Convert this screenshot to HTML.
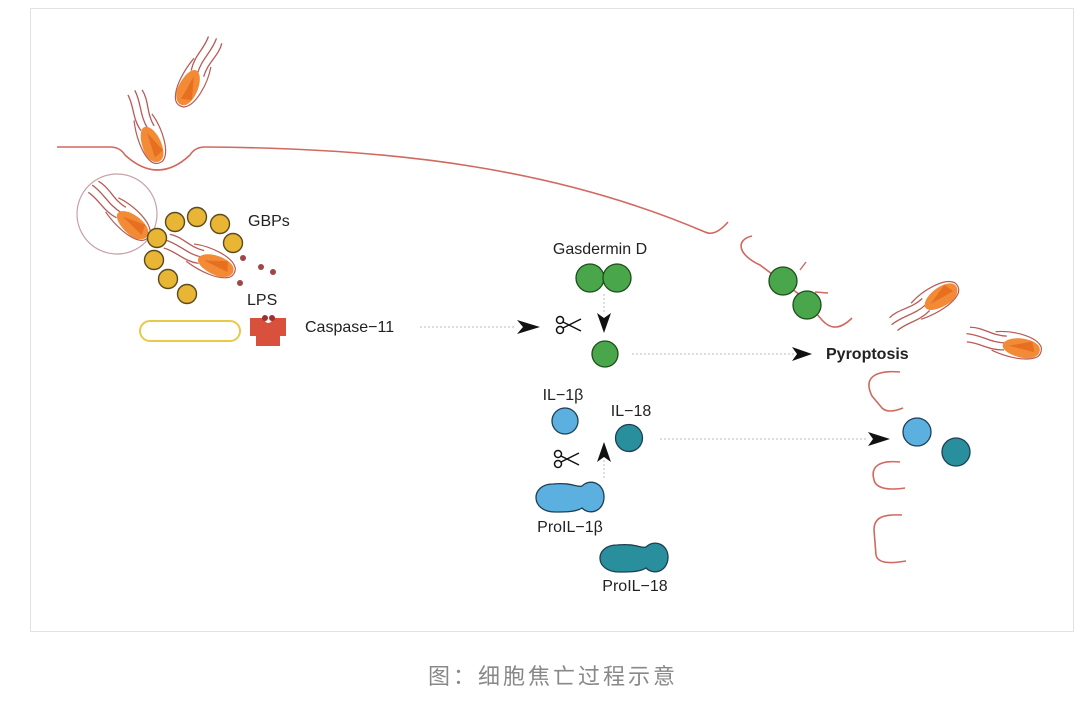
<!DOCTYPE html>
<html><head><meta charset="utf-8"><style>
html,body{margin:0;padding:0;background:#fff;width:1080px;height:714px;overflow:hidden}
svg{display:block}
text{font-family:"Liberation Sans",Arial,sans-serif;fill:#222}
</style></head><body>
<svg width="1080" height="714" viewBox="0 0 1080 714" xmlns="http://www.w3.org/2000/svg">
<defs>
<g id="bac">
  <path d="M-48,-9 C-35,-12 -25,-5 -10,-8 M-50,-2 C-36,-4 -25,2 -10,-1 M-48,6 C-35,4 -25,10 -10,6" stroke="#b85a55" stroke-width="1.3" fill="none"/>
  <path d="M-22,-10 C-5,-15 20,-14 26,-4 Q28,2 24,6 C15,13 -5,13 -22,9" stroke="#b85a55" stroke-width="1.2" fill="none"/>
  <path d="M-12,0 C-8,-10 18,-12 24,-4 C28,2 22,9 12,10 C0,11 -14,7 -12,0 Z" fill="#f28a36"/>
  <path d="M-6,1 L16,-8 L20,2 Z" fill="#e4681a" opacity="0.8"/>
</g>
<g id="sc" fill="none" stroke="#111" stroke-width="1.5">
  <circle cx="-9" cy="-5" r="3.5"/><circle cx="-9" cy="5" r="3.5"/>
  <path d="M-6,-3 L12,6 M-6,3 L12,-6"/>
</g>
</defs>
<rect x="30.5" y="8.5" width="1043" height="623" fill="#fff" stroke="#e2e2e2"/>

<!-- membrane -->
<path d="M57,147 L110,147 Q120,147 125,155 Q158,185 190,155 Q195,147 205,147 C400,148 560,170 705,232 Q715,237 728,222" fill="none" stroke="#d0695f" stroke-width="1.6"/>
<path d="M752,236 C735,240 738,255 760,265 L800,295 L822,320 Q835,335 852,318" fill="none" stroke="#d0695f" stroke-width="1.6"/>
<path d="M800,270 L806,262 M815,292 L828,293" stroke="#d0695f" stroke-width="1.4"/>
<path d="M900,372 C878,370 862,376 872,396 L882,408 Q888,414 903,408" fill="none" stroke="#d0695f" stroke-width="1.6"/>
<path d="M900,462 C880,460 870,466 874,480 Q877,492 905,488" fill="none" stroke="#d0695f" stroke-width="1.6"/>
<path d="M902,515 C882,514 874,518 874,530 L876,555 Q878,566 906,561" fill="none" stroke="#d0695f" stroke-width="1.6"/>

<!-- bacteria -->
<use href="#bac" transform="translate(192,82) rotate(117)"/>
<use href="#bac" transform="translate(150,138) rotate(70)"/>
<circle cx="117" cy="214" r="40" fill="none" stroke="#c9a0a8" stroke-width="1.2"/>
<use href="#bac" transform="translate(128,220) rotate(42)"/>
<use href="#bac" transform="translate(210,262) rotate(24)"/>
<use href="#bac" transform="translate(935,300) rotate(-32)"/>
<use href="#bac" transform="translate(1015,346) rotate(12)"/>

<!-- GBPs -->
<g fill="#e8b534" stroke="#5a4a20" stroke-width="1.4">
<circle cx="175" cy="222" r="9.5"/><circle cx="197" cy="217" r="9.5"/><circle cx="220" cy="224" r="9.5"/><circle cx="233" cy="243" r="9.5"/>
<circle cx="157" cy="238" r="9.5"/><circle cx="154" cy="260" r="9.5"/><circle cx="168" cy="279" r="9.5"/><circle cx="187" cy="294" r="9.5"/>
</g>
<g fill="#a04545"><circle cx="243" cy="258" r="3"/><circle cx="261" cy="267" r="3"/><circle cx="273" cy="272" r="3"/><circle cx="240" cy="283" r="3"/></g>
<text x="248" y="226" font-size="16">GBPs</text>
<text x="247" y="305" font-size="16">LPS</text>
<rect x="140" y="321" width="100" height="20" rx="10" fill="#fff" stroke="#e8c94a" stroke-width="2"/>
<path d="M250,318 L263,318 Q268,328 274,318 L286,318 L286,336 L280,336 L280,346 L256,346 L256,336 L250,336 Z" fill="#d9503c"/>
<circle cx="265" cy="318" r="3" fill="#a03030"/><circle cx="272" cy="318" r="3" fill="#a03030"/>
<text x="305" y="332" font-size="16">Caspase−11</text>

<!-- dotted connectors -->
<g stroke="#bbb" stroke-width="1" stroke-dasharray="2,2">
<line x1="420" y1="327" x2="515" y2="327"/>
<line x1="632" y1="354" x2="795" y2="354"/>
<line x1="660" y1="439" x2="868" y2="439"/>
<line x1="604" y1="294" x2="604" y2="312"/>
<line x1="604" y1="460" x2="604" y2="478"/>
</g>
<g fill="#111">
<path d="M517,320 L540,327 L517,334 L523,327 Z"/>
<path d="M792,347 L812,354 L792,361 L797,354 Z"/>
<path d="M868,432 L890,439 L868,446 L873,439 Z"/>
<path d="M597,313 L604,333 L611,313 L604,318 Z"/>
<path d="M597,462 L604,442 L611,462 L604,457 Z"/>
</g>
<use href="#sc" transform="translate(569,325)"/>
<use href="#sc" transform="translate(567,459)"/>

<text x="600" y="254" font-size="16" text-anchor="middle">Gasdermin D</text>
<g fill="#4aa64a" stroke="#1d4d1d" stroke-width="1.3">
<circle cx="590" cy="278" r="14"/><circle cx="617" cy="278" r="14"/>
<circle cx="605" cy="354" r="13"/>
<circle cx="783" cy="281" r="14"/><circle cx="807" cy="305" r="14"/>
</g>
<text x="826" y="359" font-size="16" font-weight="bold">Pyroptosis</text>

<text x="563" y="400" font-size="16" text-anchor="middle">IL−1β</text>
<text x="631" y="416" font-size="16" text-anchor="middle">IL−18</text>
<g stroke="#1d3f55" stroke-width="1.3">
<circle cx="565" cy="421" r="13" fill="#5cb0e0"/>
<circle cx="629" cy="438" r="13.5" fill="#2a8f9c"/>
<circle cx="917" cy="432" r="14" fill="#5cb0e0"/>
<circle cx="956" cy="452" r="14" fill="#2a8f9c"/>
<path d="M553,484 C572,482 578,488 582,486 C590,478 604,483 604,497 C604,511 590,516 582,508 C576,512 566,512 555,512 C530,512 530,484 553,484 Z" fill="#5cb0e0"/>
<path d="M617,545 C636,543 642,549 646,547 C654,539 668,544 668,557 C668,571 654,576 646,568 C640,572 630,572 619,572 C594,572 594,545 617,545 Z" fill="#2a8f9c"/>
</g>
<text x="570" y="532" font-size="16" text-anchor="middle">ProIL−1β</text>
<text x="635" y="591" font-size="16" text-anchor="middle">ProIL−18</text>

<text x="553" y="684" font-size="22" text-anchor="middle" letter-spacing="3" style="fill:#888;font-family:'Liberation Sans','Noto Sans CJK SC',sans-serif">图：细胞焦亡过程示意</text>
</svg>
</body></html>
